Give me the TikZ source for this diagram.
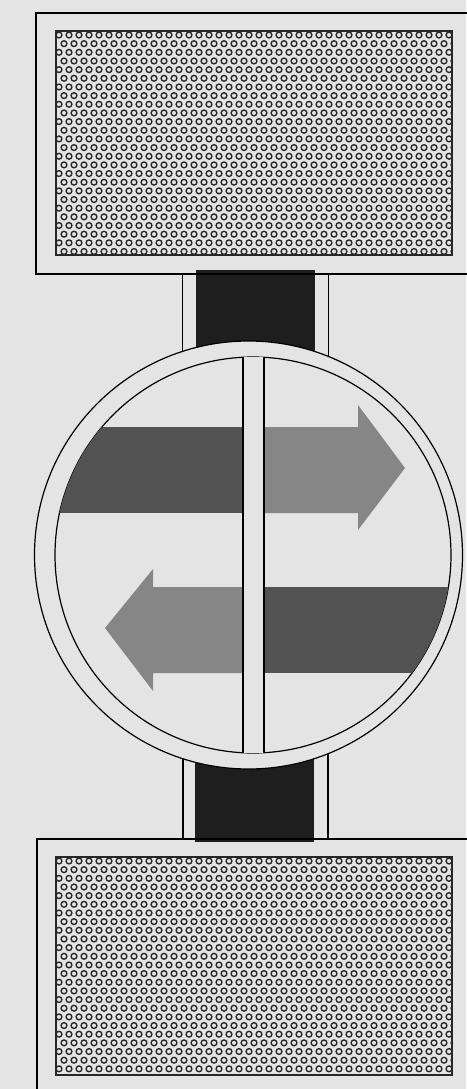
\documentclass[tikz,border=0pt]{standalone}
\usetikzlibrary{calc}
\definecolor{bgc}{HTML}{E4E4E4}
\definecolor{bandark}{HTML}{525252}
\definecolor{banlight}{HTML}{868686}
\definecolor{conn}{HTML}{1E1E1E}
\definecolor{ringc}{HTML}{262626}
\newcommand\dotfield[4]{% x0 y0 x1 y1
  \begin{scope}
    \clip (#1,#2) rectangle (#3,#4);
    \foreach \j in {0,...,27}{
      \foreach \i in {0,...,41}{
        \pgfmathsetmacro\xx{#1+3+\i*10+mod(\j,2)*5}
        \pgfmathsetmacro\yy{#2+4+\j*8.66}
        \draw[dotring] (\xx,\yy) circle (2.9);
      }
    }
  \end{scope}
  \draw[fieldedge] (#1,#2) rectangle (#3,#4);
}
\tikzset{
  thinline/.style={line width=1.2pt, draw=black},
  dotring/.style={line width=1.35pt, draw=ringc},
  fieldedge/.style={line width=2.2pt, draw=black!85},
  connfill/.style={fill=conn},
}
\begin{document}
\begin{tikzpicture}[x=1pt,y=-1pt]
\useasboundingbox (0,0) rectangle (466,1089);
\fill[bgc] (0,0) rectangle (466,1089);
% connectors
\fill[connfill] (196,270) rectangle (315,560);
\fill[connfill] (195,550) rectangle (314,842);
\draw[thinline] (182.5,274) -- (182.5,555) (328.5,274) -- (328.5,555);
\draw[thinline] (183,555) -- (183,839) (328,555) -- (328,839);
% rings
\coordinate (oc) at (248.5,555);
\coordinate (ic) at (253,555);
\fill[bgc] (oc) circle (214);
\draw[thinline] (oc) circle (214);
\draw[thinline] (ic) circle (198);
% arrows
\begin{scope}
  \clip (ic) circle (198);
  \fill[bandark] (40,427) rectangle (243,513);
  \fill[banlight] (264,427) -- (358,427) -- (358,405) -- (405,468) -- (358,530) -- (358,513) -- (264,513) -- cycle;
  \fill[bandark] (264,587) rectangle (470,673);
  \fill[banlight] (243,587) -- (153,587) -- (153,569) -- (105,628) -- (153,691) -- (153,673) -- (243,673) -- cycle;
  \fill[bgc] (243,340) rectangle (264,770);
  \draw[thinline] (243,340) -- (243,770) (264,340) -- (264,770);
\end{scope}
% boxes
\draw[thinline] (480,13) -- (36,13) -- (36,274) -- (480,274);
\dotfield{56}{31}{452}{255}
\draw[thinline] (480,839) -- (37,839) -- (37,1100);
\dotfield{56}{857}{452}{1075}
\end{tikzpicture}
\end{document}
